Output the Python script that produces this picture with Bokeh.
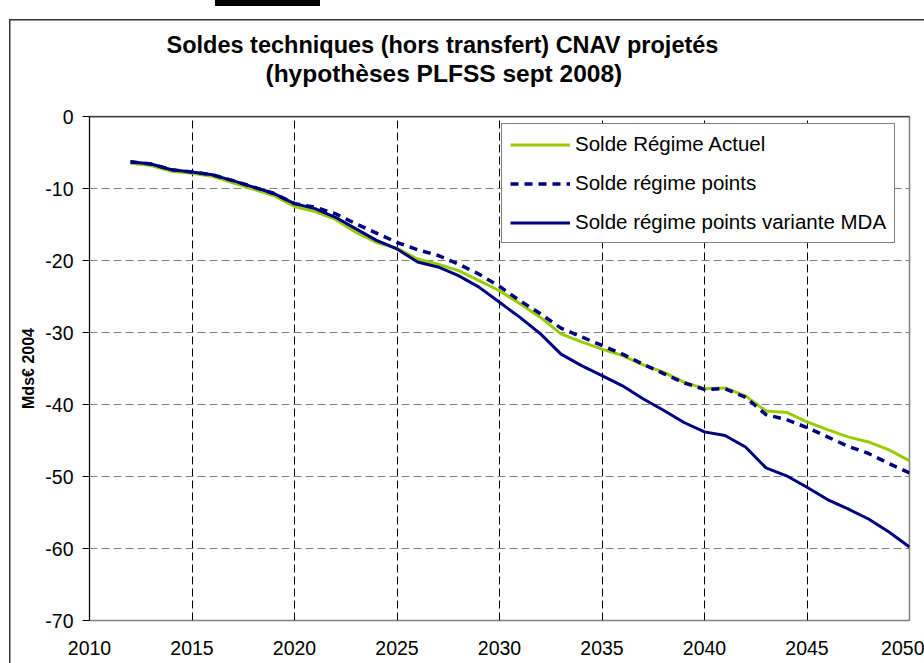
from bokeh.plotting import figure
from bokeh.models import (Range1d, FixedTicker, Legend, LegendItem, Span, Title,
                          CustomJSTickFormatter)
from bokeh.embed import file_html
from bokeh.resources import INLINE

# ---------------- data ----------------
years = list(range(2012, 2051))

solde_actuel = [-6.5, -6.8, -7.6, -7.9, -8.3, -9.2, -10.1, -11.0, -12.5, -13.2,
                -14.3, -16.1, -17.5, -18.3, -19.8, -20.5, -21.4, -22.8, -24.2, -26.0,
                -27.9, -30.2, -31.3, -32.3, -33.2, -34.5, -35.5, -36.9, -37.8, -37.7,
                -38.8, -40.9, -41.1, -42.4, -43.5, -44.5, -45.2, -46.3, -47.8]

solde_points = [-6.3, -6.6, -7.4, -7.7, -8.1, -8.9, -9.8, -10.7, -12.1, -12.6,
                -13.5, -14.9, -16.2, -17.5, -18.5, -19.3, -20.5, -21.9, -23.6, -25.6,
                -27.4, -29.4, -30.6, -31.8, -33.0, -34.4, -35.7, -37.0, -37.9, -37.8,
                -39.0, -41.4, -42.1, -43.2, -44.5, -45.8, -46.8, -48.2, -49.5]

solde_mda = [-6.3, -6.6, -7.4, -7.7, -8.1, -8.9, -9.8, -10.7, -12.1, -12.8,
             -14.0, -15.6, -17.2, -18.4, -20.2, -20.9, -22.1, -23.7, -25.8, -27.9,
             -30.2, -33.0, -34.6, -36.0, -37.4, -39.2, -40.8, -42.5, -43.8, -44.3,
             -45.9, -48.8, -49.9, -51.5, -53.2, -54.5, -55.9, -57.7, -59.8]

legend_labels = ["Solde Régime Actuel", "Solde régime points",
                 "Solde régime points variante MDA"]
x_ticks = [2010, 2015, 2020, 2025, 2030, 2035, 2040, 2045, 2050]
y_ticks = [0, -10, -20, -30, -40, -50, -60, -70]
title_lines = ["Soldes techniques (hors transfert) CNAV projetés",
               "(hypothèses PLFSS sept 2008)"]
y_title = "Mds€ 2004"

# ---------------- figure ----------------
FONT = "Liberation Sans"
W, H = 924, 663
p = figure(width=W, height=H, output_backend="svg", toolbar_location=None,
           x_range=Range1d(2010, 2050), y_range=Range1d(-70, 0),
           min_border_left=89, min_border_right=15, min_border_top=116,
           min_border_bottom=43)
p.background_fill_color = "white"
p.border_fill_color = None
p.outline_line_color = "#808080"
p.outline_line_width = 1.5
# chart-area frame (left and top edges visible in the crop) + cut-off rule above
p.styles = {
    "background-color": "white",
    "background-image": ("linear-gradient(#333333,#333333), "
                         "linear-gradient(#333333,#333333), "
                         "linear-gradient(#000000,#000000)"),
    "background-size": "1.5px 100%, 100% 1.5px, 105px 6px",
    "background-position": "9px 19px, 9px 19px, 215px 0px",
    "background-repeat": "no-repeat",
}

# axes
p.xaxis.ticker = FixedTicker(ticks=x_ticks)
p.yaxis.ticker = FixedTicker(ticks=y_ticks)
p.yaxis.formatter = CustomJSTickFormatter(code="return String(tick);")
p.xaxis.axis_line_color = None
p.xaxis.major_tick_line_color = None
p.xaxis.minor_tick_line_color = None
p.xaxis.major_tick_out = 0
p.xaxis.major_tick_in = 0
p.xaxis.major_label_standoff = 20
p.yaxis.axis_line_color = "black"
p.yaxis.axis_line_width = 1
p.yaxis.major_tick_line_color = "black"
p.yaxis.major_tick_out = 7
p.yaxis.major_tick_in = 0
p.yaxis.minor_tick_line_color = None
p.yaxis.major_label_standoff = 9
for ax in (p.xaxis, p.yaxis):
    ax.major_label_text_font = FONT
    ax.major_label_text_font_size = "19.5px"
    ax.major_label_text_color = "black"
p.yaxis.axis_label = y_title
p.yaxis.axis_label_text_font = FONT
p.yaxis.axis_label_text_font_style = "bold"
p.yaxis.axis_label_text_font_size = "16px"
p.yaxis.axis_label_text_color = "black"
p.yaxis.axis_label_standoff = 5

# grids
p.xgrid.ticker = FixedTicker(ticks=x_ticks)
p.ygrid.ticker = FixedTicker(ticks=y_ticks)
p.xgrid.grid_line_color = "black"
p.xgrid.grid_line_dash = "8 4"
p.xgrid.grid_line_width = 1
p.ygrid.grid_line_color = "#808080"
p.ygrid.grid_line_dash = "8 4"
p.ygrid.grid_line_width = 1

# top edge (category axis crossing at 0)
p.add_layout(Span(location=0, dimension="width", line_color="black", line_width=1.5))

# series
r_act = p.line(years, solde_actuel, line_color="#99CC00", line_width=3)
r_mda = p.line(years, solde_mda, line_color="#000080", line_width=3)
r_pts = p.line(years, solde_points, line_color="#000080", line_width=3.5,
               line_dash="8 6")

legend = Legend(items=[LegendItem(label=legend_labels[0], renderers=[r_act]),
                       LegendItem(label=legend_labels[1], renderers=[r_pts]),
                       LegendItem(label=legend_labels[2], renderers=[r_mda])],
                location=(412, 377))
legend.label_text_font = FONT
legend.label_text_font_size = "20.5px"
legend.label_text_color = "black"
legend.glyph_width = 60
legend.glyph_height = 23
legend.label_height = 23
legend.label_standoff = 5
legend.spacing = 15
legend.padding = 8
legend.margin = 0
legend.border_line_color = "black"
legend.border_line_width = 1
legend.background_fill_color = "white"
legend.background_fill_alpha = 1
p.add_layout(legend)

# titles: spacer nearest the plot, then line 2, then line 1 (stacked outward)
p.add_layout(Title(text=" ", standoff=1, text_font=FONT, text_font_size="24px"), "above")
p.add_layout(Title(text=title_lines[1], align="left", offset=176, standoff=0,
                   text_font=FONT, text_font_style="bold", text_font_size="24.5px",
                   text_color="black"), "above")
p.add_layout(Title(text=title_lines[0], align="left", offset=77, standoff=0,
                   text_font=FONT, text_font_style="bold", text_font_size="23.5px",
                   text_color="black"), "above")

open("out.html", "w").write(file_html(p, INLINE))
